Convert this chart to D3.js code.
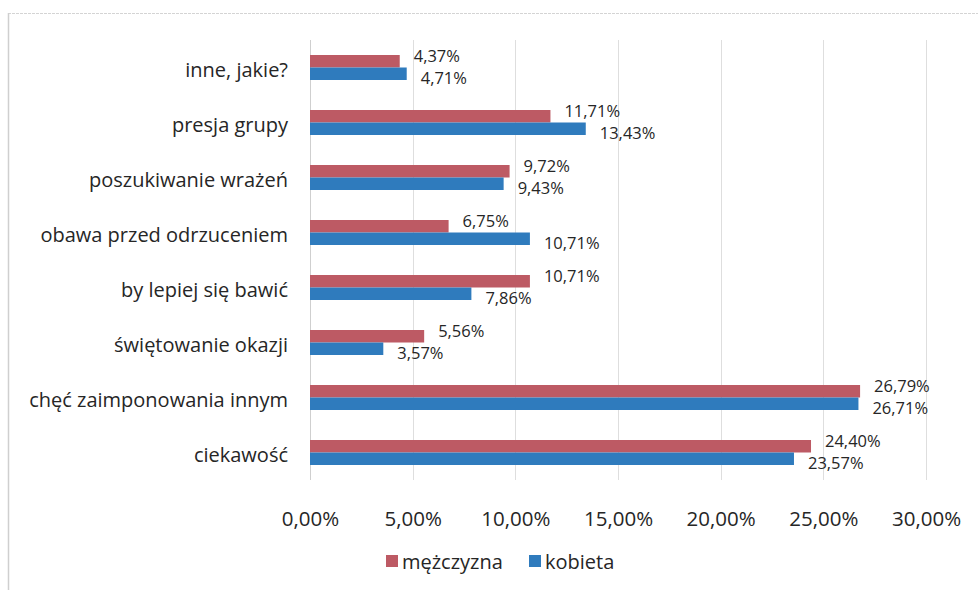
<!DOCTYPE html>
<html>
<head>
<meta charset="utf-8">
<script src="https://cdn.jsdelivr.net/npm/d3@7"></script>
<style>
  html, body { margin: 0; padding: 0; background: #ffffff; }
  svg { display: block; }
  text { font-family: "Open Sans", Lato, sans-serif; fill: #262626; }
</style>
</head>
<body>
<svg id="chart" width="978" height="590"></svg>
<script>
// Motives, listed top to bottom
const categories = [
  "inne, jakie?",
  "presja grupy",
  "poszukiwanie wrażeń",
  "obawa przed odrzuceniem",
  "by lepiej się bawić",
  "świętowanie okazji",
  "chęć zaimponowania innym",
  "ciekawość"
];
const seriesNames = ["mężczyzna", "kobieta"];
const men   = [4.37, 11.71, 9.72, 6.75, 10.71, 5.56, 26.79, 24.40];
const women = [4.71, 13.43, 9.43, 10.71, 7.86, 3.57, 26.71, 23.57];
const xTicks = [0, 5, 10, 15, 20, 25, 30];

const colors = ["#bd5a64", "#2f7bbd"];
const values = [men, women];

const svg = d3.select("#chart");
const W = 978, H = 590;
const margin = { left: 310, right: 52, top: 40, bottom: 110 };

// Outer frame lines (top and left edges)
svg.append("line").attr("x1", 8).attr("x2", W).attr("y1", 13.5).attr("y2", 13.5)
  .attr("stroke", "#d4d4d4").attr("stroke-width", 1.2).attr("stroke-dasharray", "3,1");
svg.append("line").attr("x1", 8.5).attr("x2", 8.5).attr("y1", 13).attr("y2", H)
  .attr("stroke", "#cfcfcf").attr("stroke-width", 1.5);

const x = d3.scaleLinear().domain([0, 30]).range([margin.left, W - margin.right]);
const y = d3.scaleBand().domain(categories).range([margin.top, H - margin.bottom]).paddingInner(0).paddingOuter(0);
const sub = d3.scaleBand().domain(seriesNames).range([0, 25]);
const barOffset = (y.bandwidth() - 25) / 2;

const fmt = v => d3.format(".2f")(v).replace(".", ",") + "%";

// Vertical gridlines
svg.append("g").selectAll("line").data(xTicks.slice(1)).join("line")
  .attr("x1", d => Math.round(x(d)) + 0.5).attr("x2", d => Math.round(x(d)) + 0.5)
  .attr("y1", margin.top).attr("y2", H - margin.bottom)
  .attr("stroke", "#dedede").attr("stroke-width", 1);

// Category axis line at zero
svg.append("line")
  .attr("x1", Math.round(x(0)) + 0.5).attr("x2", Math.round(x(0)) + 0.5)
  .attr("y1", margin.top).attr("y2", H - margin.bottom)
  .attr("stroke", "#cfcfcf").attr("stroke-width", 1);

// Bars
seriesNames.forEach((name, si) => {
  svg.append("g").selectAll("rect").data(categories).join("rect")
    .attr("x", x(0))
    .attr("y", (c) => y(c) + barOffset + sub(name))
    .attr("width", (c, i) => x(values[si][i]) - x(0))
    .attr("height", sub.bandwidth())
    .attr("fill", colors[si]);
});

// Value labels: men above, women below, right of the bar end
const labelDy = [-12, 10];
seriesNames.forEach((name, si) => {
  svg.append("g").selectAll("text").data(categories).join("text")
    .attr("x", (c, i) => x(values[si][i]) + 14)
    .attr("y", (c) => y(c) + y.bandwidth() / 2 + labelDy[si])
    .attr("dominant-baseline", "central")
    .attr("font-size", 16.5)
    .text((c, i) => fmt(values[si][i]));
});

// Category labels
svg.append("g").selectAll("text").data(categories).join("text")
  .attr("x", x(0) - 22)
  .attr("y", c => y(c) + y.bandwidth() / 2 + 2)
  .attr("text-anchor", "end")
  .attr("dominant-baseline", "central")
  .attr("font-size", 20)
  .text(c => c);

// Value axis tick labels
const xAxis = svg.append("g")
  .attr("transform", `translate(0,${H - margin.bottom + 46})`)
  .call(d3.axisBottom(x).tickValues(xTicks).tickSize(0).tickPadding(0).tickFormat(fmt));
xAxis.select(".domain").remove();
xAxis.selectAll("text").attr("font-size", 20.5).attr("fill", "#262626")
  .attr("font-family", "'Open Sans', Lato, sans-serif").attr("dy", "0");

// Legend
const legend = svg.append("g").attr("transform", "translate(386,561)");
const legendX = [0, 143];
seriesNames.forEach((name, i) => {
  const g = legend.append("g").attr("transform", `translate(${legendX[i]},0)`);
  g.append("rect").attr("x", 0).attr("y", -6).attr("width", 12).attr("height", 12).attr("fill", colors[i]);
  g.append("text").attr("x", 16).attr("y", 0).attr("dominant-baseline", "central")
    .attr("font-size", 20).text(name);
});
</script>
</body>
</html>
